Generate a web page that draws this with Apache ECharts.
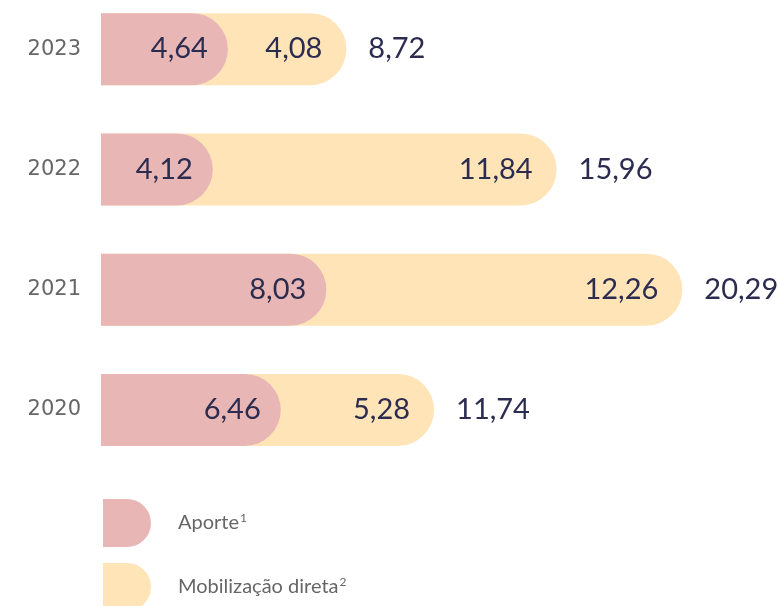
<!DOCTYPE html>
<html>
<head>
<meta charset="utf-8">
<script src="https://cdn.jsdelivr.net/npm/echarts@6/dist/echarts.min.js"></script>
<style>
  html, body { margin: 0; padding: 0; background: #fff; }
  #chart { width: 778px; height: 606px; }
</style>
</head>
<body>
<div id="chart"></div>
<script>
const years = ['2023', '2022', '2021', '2020'];
const aporte = [4.64, 4.12, 8.03, 6.46];
const mobilizacao = [4.08, 11.84, 12.26, 5.28];
const totals = [8.72, 15.96, 20.29, 11.74];

const PINK = '#E8B7B5';
const YELLOW = '#FFE4B8';
const NAVY = '#2B2C50';
const fmt = (v) => v.toFixed(2).replace('.', ',');

const numLabel = {
  fontFamily: 'Lato',
  fontSize: 29,
  color: NAVY
};

const chart = echarts.init(document.getElementById('chart'));

chart.setOption({
  animation: false,
  grid: { left: 101, right: 46, top: -11, height: 481, outerBoundsMode: 'none' },
  xAxis: {
    type: 'value',
    min: 0.27,
    max: 22,
    show: false,
    splitLine: { show: false }
  },
  yAxis: {
    type: 'category',
    data: years,
    inverse: true,
    axisLine: { show: false },
    axisTick: { show: false },
    axisLabel: {
      margin: 20,
      fontFamily: 'DejaVu Sans',
      fontSize: 21,
      color: '#666666'
    }
  },
  legend: {
    orient: 'vertical',
    left: 98,
    top: 494,
    height: 130,
    itemWidth: 48,
    itemHeight: 48,
    itemGap: 16,
    data: ['Aporte', 'Mobilização direta'],
    icon: 'path://M0,0L24,0A24,24,0,0,1,24,48L0,48Z',
    formatter: (name) => name === 'Aporte' ? 'Aporte{sup|1}' : 'Mobilização direta{sup|2}',
    textStyle: {
      fontFamily: 'Lato',
      fontSize: 20,
      color: '#666666',
      padding: [0, 0, 0, 22],
      rich: {
        sup: { fontFamily: 'Lato', fontSize: 12, color: '#666666', padding: [0, 0, 10, 1] }
      }
    }
  },
  series: [
    {
      name: 'Mobilização direta',
      type: 'bar',
      barWidth: 72,
      barGap: '-100%',
      data: totals,
      itemStyle: { color: YELLOW, borderRadius: [0, 36, 36, 0] },
      label: {
        show: true,
        position: 'insideRight',
        distance: 24,
        formatter: (p) => fmt(mobilizacao[p.dataIndex]),
        ...numLabel
      }
    },
    {
      name: 'Aporte',
      type: 'bar',
      barWidth: 72,
      barGap: '-100%',
      data: aporte,
      itemStyle: { color: PINK, borderRadius: [0, 36, 36, 0] },
      label: {
        show: true,
        position: 'insideRight',
        distance: 20,
        formatter: (p) => fmt(p.value),
        ...numLabel
      }
    },
    {
      name: 'Total',
      type: 'bar',
      barWidth: 72,
      barGap: '-100%',
      silent: true,
      data: totals,
      itemStyle: { color: 'rgba(0,0,0,0)' },
      label: {
        show: true,
        position: 'right',
        distance: 22,
        formatter: (p) => fmt(p.value),
        ...numLabel
      }
    }
  ]
});
</script>
</body>
</html>
